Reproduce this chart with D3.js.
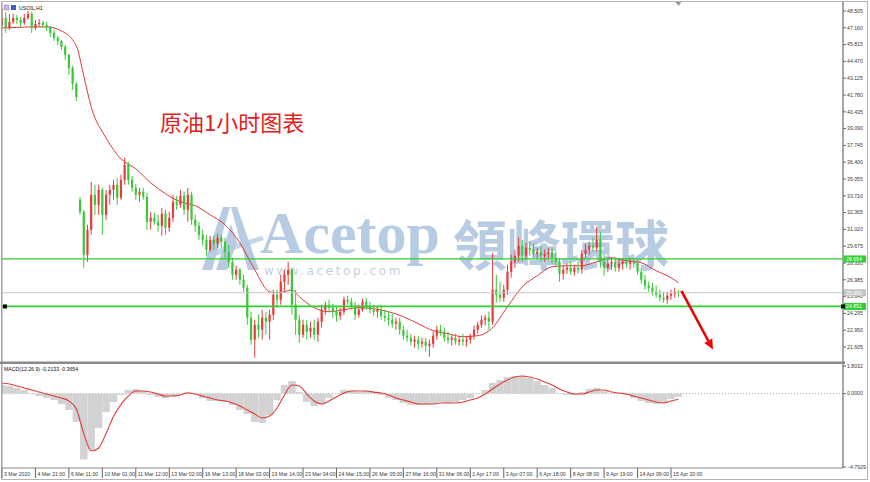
<!DOCTYPE html>
<html>
<head>
<meta charset="utf-8">
<title>USOIL H1</title>
<script src="https://d3js.org/d3.v7.min.js"></script>
<style>
  body { margin: 0; background: #fff; }
  svg { display: block; font-family: "Liberation Sans", Arial, sans-serif; }
  .axis-text { font-size: 5.2px; fill: #3a3a3a; }
</style>
</head>
<body>
<svg width="870" height="482"></svg>
<script>
// 4-hour candles (one time label every 9 candles)
const open = [
  47.39,47.95,47.15,47.63,47.95,47.79,47.55,47.95,48.27,47.15,
  47.47,47.55,47.39,47.23,46.75,46.35,46.11,45.63,44.99,43.95,
  42.67,33.39,32.43,28.99,30.99,33.79,32.99,34.19,32.19,33.79,
  34.19,34.59,33.55,34.99,36.19,34.99,34.35,33.79,34.03,33.63,
  31.63,31.95,31.63,31.31,32.27,31.15,31.95,33.23,32.99,33.71,
  32.59,33.79,31.79,31.31,30.59,30.19,29.39,30.19,29.87,30.35,
  30.03,29.23,28.43,27.39,27.79,26.99,26.35,23.95,22.19,23.39,
  22.99,23.95,23.63,24.19,25.79,25.39,26.83,27.39,27.79,24.99,
  23.79,22.59,23.39,22.83,23.15,22.59,23.63,24.59,24.99,24.75,
  24.43,24.11,24.43,25.39,25.23,24.91,24.19,24.59,25.23,24.91,
  24.59,24.43,24.59,24.11,23.95,23.79,23.47,23.63,22.99,22.51,
  22.35,22.03,22.19,21.87,22.03,21.71,21.87,22.51,22.99,22.83,
  22.35,22.19,22.35,22.03,22.19,22.03,22.19,22.51,22.99,23.39,
  23.79,23.95,23.63,26.19,25.79,25.55,26.19,27.63,28.43,28.91,
  29.71,28.91,29.55,29.39,29.07,29.23,28.91,29.07,29.23,28.75,
  28.43,27.47,27.79,27.95,27.63,27.95,27.79,29.07,29.39,29.71,
  29.55,30.19,28.43,27.95,28.27,28.43,27.95,28.27,28.43,28.27,
  28.43,28.27,27.63,26.99,26.51,26.35,26.03,25.79,25.55,25.39,
  25.71,25.87,26.03
];
const high = [
  48.75,48.43,48.27,48.27,48.19,48.03,48.27,48.51,48.43,47.79,
  47.87,47.71,47.63,47.31,46.99,46.51,46.19,45.79,45.07,44.11,
  42.83,33.63,32.59,31.39,34.83,34.59,34.59,34.35,34.19,34.59,
  34.99,35.15,35.39,36.75,36.43,35.31,34.67,34.35,34.35,33.95,
  32.43,32.35,32.19,32.75,32.59,32.43,33.79,33.71,34.19,34.03,
  34.35,34.03,32.19,31.63,30.99,30.59,30.51,30.51,30.67,30.59,
  30.35,29.79,28.75,28.11,27.95,27.39,26.59,24.43,23.79,24.19,
  24.59,24.43,24.59,26.19,26.19,27.39,27.79,28.43,27.95,26.19,
  24.19,23.79,23.79,23.63,23.79,23.95,24.99,25.23,25.39,25.07,
  24.91,24.75,25.63,25.71,25.55,25.23,24.99,25.47,25.55,25.23,
  24.99,24.91,24.99,24.59,24.43,24.27,23.95,23.95,23.31,22.99,
  22.67,22.51,22.51,22.35,22.35,22.19,22.83,23.31,23.39,23.15,
  22.83,22.59,22.67,22.51,22.67,22.51,22.67,23.31,23.63,24.11,
  24.19,24.43,29.15,27.39,26.83,26.59,28.19,28.99,29.39,30.35,
  30.19,29.95,30.03,29.87,29.55,29.71,29.39,29.55,29.55,29.23,
  28.75,28.11,28.27,28.43,28.19,28.43,29.39,29.87,30.03,30.35,
  31.23,30.83,28.99,28.59,28.75,28.75,28.59,28.67,28.75,28.75,
  28.75,28.59,27.95,27.39,26.83,26.75,26.51,26.19,26.03,26.03,
  26.19,26.35,26.19
];
const low = [
  47.15,46.75,46.99,47.47,47.47,47.23,47.39,47.79,46.75,46.99,
  47.23,47.15,46.91,46.43,46.11,45.79,45.39,44.59,43.39,42.19,
  41.31,32.19,27.95,28.43,30.59,32.19,32.19,30.59,31.79,32.99,
  33.39,32.99,33.39,34.59,34.59,34.03,33.39,33.23,33.39,30.99,
  30.99,31.39,30.83,30.51,30.59,30.83,31.63,32.59,32.75,32.19,
  31.63,31.39,30.83,30.19,29.71,28.91,29.23,29.39,29.55,29.55,
  28.75,27.95,26.99,26.99,26.59,26.03,23.39,21.79,20.75,22.35,
  22.19,22.59,22.19,23.79,24.75,24.99,26.03,26.59,24.19,22.59,
  21.95,22.35,22.19,22.35,22.19,22.03,23.15,24.19,24.43,23.95,
  23.63,23.79,24.19,24.99,24.59,23.79,23.95,24.43,24.59,24.27,
  24.11,23.95,23.79,23.63,23.31,23.15,22.99,22.59,22.19,22.03,
  21.71,21.55,21.39,21.55,21.23,20.83,21.55,22.19,22.51,22.03,
  21.87,21.71,21.79,21.71,21.71,21.63,21.87,22.19,22.67,23.15,
  23.31,22.99,23.39,25.15,25.23,25.23,25.79,27.15,27.95,28.43,
  28.43,28.59,28.91,28.75,28.59,28.43,28.43,28.59,28.27,28.11,
  26.83,26.99,27.47,27.39,27.31,27.47,27.47,28.75,28.99,29.23,
  29.23,27.95,27.31,27.63,27.79,27.63,27.63,27.79,27.95,27.79,
  27.95,27.39,26.67,26.19,26.03,25.71,25.55,25.23,25.15,25.07,
  25.39,25.55,25.63
];
const close = [
  47.95,47.15,47.63,47.95,47.79,47.55,47.95,48.27,47.15,47.47,
  47.55,47.39,47.23,46.75,46.35,46.11,45.63,44.99,43.95,42.67,
  41.63,32.43,28.99,30.99,33.79,32.99,34.19,32.19,33.79,34.19,
  34.59,33.55,34.99,36.19,34.99,34.35,33.79,34.03,33.63,31.63,
  31.95,31.63,31.31,32.27,31.15,31.95,33.23,32.99,33.71,32.59,
  33.79,31.79,31.31,30.59,30.19,29.39,30.19,29.87,30.35,30.03,
  29.23,28.43,27.39,27.79,26.99,26.35,23.95,22.19,23.39,22.99,
  23.95,23.63,24.19,25.79,25.39,26.83,27.39,27.79,24.99,23.79,
  22.59,23.39,22.83,23.15,22.59,23.63,24.59,24.99,24.75,24.43,
  24.11,24.43,25.39,25.23,24.91,24.19,24.59,25.23,24.91,24.59,
  24.43,24.59,24.11,23.95,23.79,23.47,23.63,22.99,22.51,22.35,
  22.03,22.19,21.87,22.03,21.71,21.87,22.51,22.99,22.83,22.35,
  22.19,22.35,22.03,22.19,22.03,22.19,22.51,22.99,23.39,23.79,
  23.95,23.63,26.19,25.79,25.55,26.19,27.63,28.43,28.91,29.71,
  28.91,29.55,29.39,29.07,29.23,28.91,29.07,29.23,28.75,28.43,
  27.47,27.79,27.95,27.63,27.95,27.79,29.07,29.39,29.71,29.55,
  30.19,28.43,27.95,28.27,28.43,27.95,28.27,28.43,28.27,28.43,
  28.27,27.63,26.99,26.51,26.35,26.03,25.79,25.55,25.39,25.71,
  25.87,26.03,25.95
];

// red moving average, sampled at these candle indices
const maIndex = [0,4,8,12,16,20,22,24,28,32,36,40,44,48,52,56,60,64,68,72,74,76,78,80,
  84,88,92,96,100,104,108,112,116,120,124,128,132,136,140,144,148,152,156,160,164,168,172,176,180,182];
const maValue = [47.15,47.19,47.23,47.23,46.91,45.71,43.31,40.83,38.35,36.67,35.87,34.75,33.87,33.23,
  32.91,32.19,31.39,29.95,27.79,26.03,25.95,26.03,26.19,25.63,24.75,24.43,24.59,24.75,24.67,24.43,
  24.03,23.47,22.91,22.67,22.43,22.51,23.15,24.83,26.43,27.31,28.03,28.11,28.11,28.43,28.75,28.51,
  28.35,27.71,27.15,26.75];

// MACD(12,26,9), one value per 2 candles
const macdMain = [
  0.56,0.50,0.37,0.24,0.04,-0.16,-0.29,-0.42,-0.68,-1.07,
  -1.85,-4.30,-3.70,-2.25,-1.20,-0.55,-0.09,0.24,0.30,0.17,
  -0.09,-0.22,-0.29,-0.16,0.04,0.10,-0.03,-0.29,-0.48,-0.48,
  -0.55,-0.74,-1.07,-1.33,-1.85,-1.92,-1.40,-0.42,0.56,0.82,
  0.10,-0.55,-0.81,-0.68,-0.29,0.04,0.24,0.17,0.10,0.17,
  0.10,-0.09,-0.29,-0.42,-0.61,-0.74,-0.74,-0.74,-0.68,-0.55,
  -0.61,-0.55,-0.42,-0.29,-0.03,0.24,0.69,0.89,1.08,1.15,
  1.15,1.02,0.82,0.56,0.37,0.04,-0.09,-0.09,0.10,0.30,
  0.37,0.17,0.04,0.04,-0.09,-0.29,-0.48,-0.61,-0.68,-0.61,
  -0.35,-0.21
];
const macdSignal = [
  0.69,0.63,0.50,0.37,0.24,0.10,-0.03,-0.16,-0.29,-0.48,
  -1.00,-2.60,-3.75,-3.55,-2.60,-1.50,-0.70,-0.16,0.17,0.17,
  0.10,-0.03,-0.16,-0.16,-0.09,0.04,-0.03,-0.16,-0.29,-0.42,
  -0.48,-0.61,-0.81,-1.07,-1.33,-1.59,-1.46,-0.94,-0.09,0.56,
  0.50,-0.03,-0.48,-0.68,-0.48,-0.22,0.04,0.17,0.17,0.17,
  0.10,0.04,-0.09,-0.29,-0.42,-0.55,-0.68,-0.68,-0.68,-0.61,
  -0.61,-0.61,-0.55,-0.42,-0.29,-0.03,0.30,0.63,0.89,1.08,
  1.15,1.08,0.95,0.76,0.56,0.30,0.10,-0.03,-0.03,0.10,
  0.24,0.24,0.10,0.04,-0.03,-0.16,-0.29,-0.42,-0.55,-0.61,
  -0.48,-0.37
];

const priceTicks = [48.505,47.160,45.815,44.470,43.125,41.780,40.435,39.090,37.745,36.400,
  35.055,33.710,32.365,31.020,29.675,28.330,26.985,25.640,24.295,22.950,21.605];
const macdTicks = [1.8032, 0, -4.7929];
const timeLabels = ["3 Mar 2020","4 Mar 21:00","6 Mar 11:00","10 Mar 01:00","11 Mar 12:00",
  "13 Mar 02:00","16 Mar 13:00","18 Mar 03:00","19 Mar 14:00","23 Mar 04:00","24 Mar 15:00",
  "26 Mar 05:00","27 Mar 16:00","31 Mar 06:00","1 Apr 17:00","3 Apr 07:00","6 Apr 18:00",
  "8 Apr 08:00","9 Apr 19:00","14 Apr 09:00","15 Apr 20:00"];
const candlesPerLabel = 9;
const levels = [28.654, 24.851];
const bid = 25.95;
const arrowFrom = [182.8, 26.1], arrowTo = [191.3, 21.4];

const svg = d3.select("svg");
const left = 2, right = 843, mainTop = 2, mainBottom = 362, macdTop = 364, macdBottom = 468;
const upCol = "#ea3b3b", downCol = "#39c839", lineGreen = "#2fcf2f";

const x = d3.scaleLinear().domain([0, 180]).range([2, 671]);
const y = d3.scaleLinear().domain([21.605, 48.505]).range([347, 11]);
const ym = d3.scaleLinear().domain([-4.7929, 1.8032]).range([467, 366]);

svg.append("rect").attr("width", 870).attr("height", 482).attr("fill", "#fff");
svg.append("defs").html(`
  <clipPath id="mainClip"><rect x="${left}" y="${mainTop}" width="${right - left}" height="${mainBottom - mainTop}"/></clipPath>
  <clipPath id="macdClip"><rect x="${left}" y="${macdTop}" width="${right - left}" height="${macdBottom - macdTop}"/></clipPath>`);

// watermark
const wm = svg.append("g").attr("clip-path", "url(#mainClip)");
const wmCol = "#b7cce3";
wm.append("polygon").attr("points", "202,270 223,207 230,207 212,270").attr("fill", wmCol);
wm.append("polygon").attr("points", "216,270 231,224 237,242 227,270").attr("fill", wmCol);
wm.append("polygon").attr("points", "231,207 237,207 259,270 248,270").attr("fill", wmCol);
wm.append("polygon").attr("points", "214,250 262,236 264,240 216,256").attr("fill", wmCol).attr("opacity", 0.8);
wm.append("text").attr("x", 260).attr("y", 253).attr("fill", wmCol)
  .style("font-family", "'Liberation Serif', 'DejaVu Serif', serif").style("font-size", "60px")
  .style("font-weight", "bold").text("Acetop");
wm.append("text").attr("x", 453).attr("y", 266).attr("fill", wmCol)
  .style("font-family", "'Noto Sans CJK TC', sans-serif").style("font-size", "54px")
  .style("font-weight", "bold").text("領峰環球");
wm.append("text").attr("x", 264).attr("y", 275).attr("fill", "#c2cfdc")
  .style("font-family", "'DejaVu Sans', sans-serif").style("font-size", "12px")
  .style("letter-spacing", "2.6px").text("www.acetop.com");

// moving average
const gMain = svg.append("g").attr("clip-path", "url(#mainClip)");
gMain.append("path")
  .datum(maIndex.map((d, i) => [d, maValue[i]]))
  .attr("fill", "none").attr("stroke", "#e23a3a").attr("stroke-width", 1)
  .attr("d", d3.line().x(d => x(d[0])).y(d => y(d[1])).curve(d3.curveMonotoneX));

// candles
const bars = d3.range(close.length);
const colOf = i => close[i] >= open[i] ? upCol : downCol;
gMain.selectAll("line.wick").data(bars).join("line").attr("class", "wick")
  .attr("x1", i => x(i)).attr("x2", i => x(i))
  .attr("y1", i => y(high[i])).attr("y2", i => y(low[i]))
  .attr("stroke", colOf).attr("stroke-width", 1);
gMain.selectAll("rect.body").data(bars).join("rect").attr("class", "body")
  .attr("x", i => x(i) - 1.1).attr("width", 2.2)
  .attr("y", i => y(Math.max(open[i], close[i])))
  .attr("height", i => Math.max(1, Math.abs(y(open[i]) - y(close[i]))))
  .attr("fill", colOf);

// bid line and horizontal levels
gMain.append("line").attr("x1", left).attr("x2", right).attr("y1", y(bid)).attr("y2", y(bid))
  .attr("stroke", "#c8c8c8").attr("stroke-width", 1);
levels.forEach((lv, i) => {
  gMain.append("line").attr("x1", left).attr("x2", right).attr("y1", y(lv)).attr("y2", y(lv))
    .attr("stroke", lineGreen).attr("stroke-width", i === 0 ? 1.2 : 1.8);
});
gMain.append("rect").attr("x", left + 1).attr("y", y(levels[1]) - 2).attr("width", 4).attr("height", 4).attr("fill", "#000");

// annotation text and arrow
svg.append("text").attr("x", 160).attr("y", 131).attr("fill", "#e3211c")
  .style("font-family", "'Noto Sans CJK SC', sans-serif").style("font-size", "22px")
  .text("原油1小时图表");
const ax1 = x(arrowFrom[0]), ay1 = y(arrowFrom[1]), ax2 = x(arrowTo[0]), ay2 = y(arrowTo[1]);
const ang = Math.atan2(ay2 - ay1, ax2 - ax1);
const headLen = 10, headW = 4.5;
const bx = ax2 - headLen * Math.cos(ang), by = ay2 - headLen * Math.sin(ang);
svg.append("line").attr("x1", ax1).attr("y1", ay1).attr("x2", bx).attr("y2", by)
  .attr("stroke", "#f00000").attr("stroke-width", 2.6);
svg.append("polygon").attr("fill", "#f00000").attr("points", [
  [ax2, ay2],
  [bx + headW * Math.sin(ang), by - headW * Math.cos(ang)],
  [bx - headW * Math.sin(ang), by + headW * Math.cos(ang)]
].map(p => p.join(",")).join(" "));

// MACD panel
const gMacd = svg.append("g").attr("clip-path", "url(#macdClip)");
gMacd.append("line").attr("x1", left).attr("x2", right).attr("y1", ym(0)).attr("y2", ym(0))
  .attr("stroke", "#a8a8a8").attr("stroke-dasharray", "1,2");
gMacd.selectAll("rect.hist").data(macdMain).join("rect").attr("class", "hist")
  .attr("x", (d, k) => x(2 * k - 1)).attr("width", (d, k) => x(2 * k + 1) - x(2 * k - 1))
  .attr("y", d => ym(Math.max(0, d))).attr("height", d => Math.abs(ym(d) - ym(0)))
  .attr("fill", "#d2d2d2");
gMacd.append("path").datum(macdSignal)
  .attr("fill", "none").attr("stroke", "#e23a3a").attr("stroke-width", 1.1)
  .attr("d", d3.line().x((d, k) => x(2 * k)).y(d => ym(d)).curve(d3.curveMonotoneX));

// frames
svg.append("rect").attr("x", 1.5).attr("y", 1.5).attr("width", 866).attr("height", 478)
  .attr("fill", "none").attr("stroke", "#b4b4b4");
svg.append("line").attr("x1", left).attr("x2", left).attr("y1", mainTop).attr("y2", macdBottom).attr("stroke", "#9a9a9a");
svg.append("rect").attr("x", 0).attr("y", mainBottom - 0.5).attr("width", right + 2).attr("height", 2.5).attr("fill", "#8a8a8a");
svg.append("line").attr("x1", left).attr("x2", right).attr("y1", macdBottom).attr("y2", macdBottom).attr("stroke", "#8a8a8a").attr("stroke-width", 1.2);
svg.append("line").attr("x1", right).attr("x2", right).attr("y1", mainTop).attr("y2", macdBottom).attr("stroke", "#8a8a8a").attr("stroke-width", 1.5);
svg.append("polygon").attr("points", `${x(182) - 3},2 ${x(182) + 3},2 ${x(182)},6`).attr("fill", "#9a9a9a");

// right price axis
const ga = svg.append("g");
priceTicks.forEach(v => {
  ga.append("line").attr("x1", right).attr("x2", right + 3).attr("y1", y(v)).attr("y2", y(v)).attr("stroke", "#666");
  ga.append("text").attr("class", "axis-text").attr("x", right + 4).attr("y", y(v) + 1.8).text(d3.format(".3f")(v));
});
macdTicks.forEach(v => {
  ga.append("line").attr("x1", right).attr("x2", right + 3).attr("y1", ym(v)).attr("y2", ym(v)).attr("stroke", "#666");
  ga.append("text").attr("class", "axis-text").attr("x", right + 4).attr("y", ym(v) + 1.8).text(d3.format(".4f")(v));
});
function priceTag(v, fill) {
  ga.append("rect").attr("x", right + 1).attr("y", y(v) - 3.5).attr("width", 22).attr("height", 7).attr("fill", fill);
  ga.append("text").attr("class", "axis-text").attr("x", right + 3).attr("y", y(v) + 1.9)
    .style("fill", "#fff").text(d3.format(".3f")(v));
}
priceTag(bid, "#c4c4c4");
levels.forEach(lv => priceTag(lv, lineGreen));
ga.append("rect").attr("x", right - 2).attr("y", y(levels[1]) - 2).attr("width", 4).attr("height", 4).attr("fill", "#000");

// time axis
timeLabels.forEach((t, i) => {
  const xp = x(i * candlesPerLabel);
  ga.append("line").attr("x1", xp).attr("x2", xp).attr("y1", macdBottom).attr("y2", macdBottom + 10).attr("stroke", "#666");
  ga.append("text").attr("class", "axis-text").attr("x", xp + 2).attr("y", macdBottom + 8).text(t);
});

// panel captions
svg.append("rect").attr("x", 4).attr("y", 5).attr("width", 5).attr("height", 5).attr("fill", "#c9b8e0").attr("stroke", "#8a7ab8").attr("stroke-width", 0.5);
svg.append("rect").attr("x", 11).attr("y", 5).attr("width", 5).attr("height", 5).attr("fill", "#3a5fc8");
svg.append("text").attr("class", "axis-text").attr("x", 19).attr("y", 9.5).style("fill", "#111").text("USOIL,H1");
svg.append("text").attr("class", "axis-text").attr("x", 4).attr("y", 371).style("fill", "#111")
  .text("MACD(12,26,9) -0.2133 -0.3654");
</script>
</body>
</html>
